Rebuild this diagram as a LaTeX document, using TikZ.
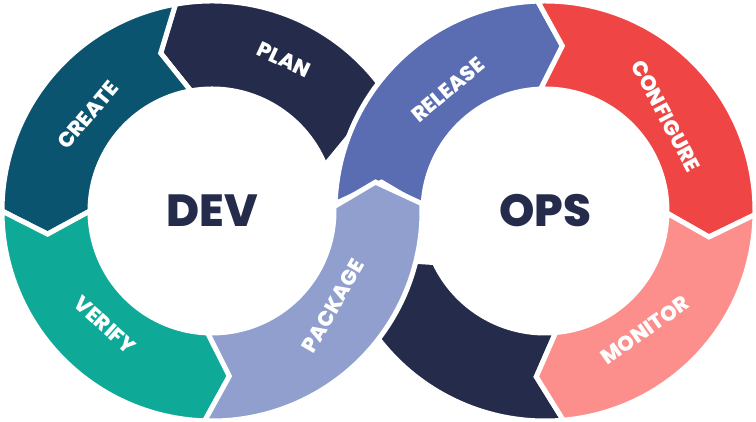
\documentclass[tikz,border=0pt]{standalone}
\usepackage{fontspec}
\setmainfont{Poppins}[BoldFont={Poppins ExtraBold}]
\definecolor{ccreate}{HTML}{0B5470}
\definecolor{cnavy}{HTML}{252B4B}
\definecolor{cverify}{HTML}{0FAA97}
\definecolor{cpackage}{HTML}{909FCD}
\definecolor{crelease}{HTML}{5A6DB2}
\definecolor{cconfig}{HTML}{EF4645}
\definecolor{cmonitor}{HTML}{FC8E8C}
% \segm{cx}{cy}{start}{end}{d}{color}
\newcommand{\segm}[6]{%
 \begin{scope}[shift={(#1,#2)}]
 \filldraw[fill=#6,draw=white,line width=5pt,line join=miter]
  (#3:210) arc[start angle=#3,end angle=#4,radius=210]
  -- (#4+#5:166) -- (#4:122) arc[start angle=#4,end angle=#3,radius=122]
  -- (#3+#5:166) -- cycle;
 \end{scope}}
\tikzset{lab/.style={text=white,inner sep=0pt,font=\fontsize{21}{21}\selectfont\bfseries},
 big/.style={text=cnavy,font=\fontsize{45}{45}\selectfont\bfseries}}
\begin{document}
\begin{tikzpicture}[x=1pt,y=1pt]
\useasboundingbox (0,0) rectangle (756,422);
\segm{545}{211}{-85}{-155}{-8}{cnavy}
\segm{212}{211}{22}{100}{8}{cnavy}
\segm{212}{211}{100}{180}{8}{ccreate}
\segm{212}{211}{180}{268}{8}{cverify}
\segm{545}{211}{178}{92}{-8}{crelease}
\segm{212}{211}{268}{362}{8}{cpackage}
\segm{545}{211}{92}{-1}{-8}{cconfig}
\segm{545}{211}{-1}{-85}{-8}{cmonitor}
\node[lab,rotate=50] (create) at (88,307) {CREATE};
\node[lab,rotate=-25] (plan) at (284,362) {PLAN};
\node[lab,rotate=-42] (verify) at (105,97) {VERIFY};
\node[lab,rotate=60] (package) at (333,116) {PACKAGE};
\node[lab,rotate=40] (release) at (448,332) {RELEASE};
\node[lab,rotate=-62] (configure) at (666,306) {CONFIGURE};
\node[lab,rotate=35] (monitor) at (645,92) {MONITOR};
\node[big] (dev) at (212,211) {DEV};
\node[big] (ops) at (545,211) {OPS};
\end{tikzpicture}
\end{document}
